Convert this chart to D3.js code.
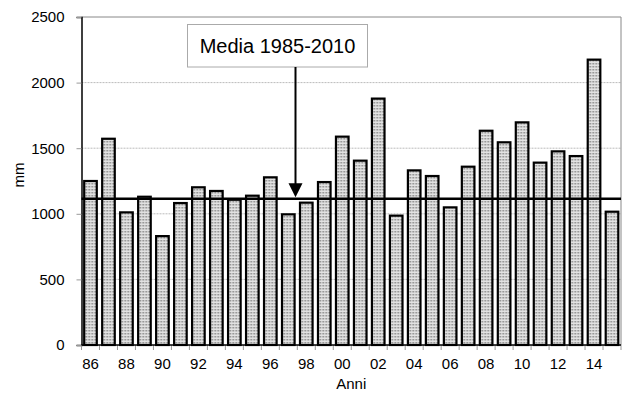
<!DOCTYPE html>
<html>
<head>
<meta charset="utf-8">
<script src="https://cdn.jsdelivr.net/npm/d3@7"></script>
<style>
  body { margin: 0; background: #fff; }
  text { font-family: "Liberation Sans", Arial, sans-serif; }
</style>
</head>
<body>
<div id="chart"></div>
<script>
// years (2 digit labels) and rainfall in mm
var years = ["86","87","88","89","90","91","92","93","94","95","96","97","98","99","00",
             "01","02","03","04","05","06","07","08","09","10","11","12","13","14","15"];
var rain = [1250, 1572, 1011, 1130, 830, 1082, 1202, 1174, 1107, 1138, 1278, 996, 1085, 1242, 1588,
            1405, 1878, 986, 1331, 1288, 1049, 1359, 1633, 1545, 1697, 1390, 1476, 1440, 2175, 1016];
var yTicks = [0, 500, 1000, 1500, 2000, 2500];
var mean = 1115;
var meanLabel = "Media 1985-2010";

var fullwidth = 623,
    fullheight = 401,
    margin = {top: 17, right: 2, bottom: 56, left: 81.5},
    width = fullwidth - margin.left - margin.right,
    height = fullheight - margin.top - margin.bottom;

var svg = d3.select("#chart")
  .append("svg")
    .attr("width", fullwidth)
    .attr("height", fullheight);

// dotted fill for the bars
var pat = svg.append("defs").append("pattern")
    .attr("id", "dots")
    .attr("patternUnits", "userSpaceOnUse")
    .attr("width", 3)
    .attr("height", 3);
pat.append("rect").attr("width", 3).attr("height", 3).attr("fill", "#e2e2e2");
pat.append("rect").attr("x", 1).attr("y", 1).attr("width", 1.5).attr("height", 1.5).attr("fill", "#808080");

var g = svg.append("g")
    .attr("transform", "translate(" + margin.left + "," + margin.top + ")");

var xScale = d3.scaleBand()
    .domain(years)
    .range([0, width]);
var yScale = d3.scaleLinear()
    .domain([0, 2500])
    .range([height, 0]);

// gridlines
g.selectAll(".grid")
  .data(yTicks.filter(d => d > 0))
  .enter()
  .append("line")
    .attr("x1", 0)
    .attr("x2", width)
    .attr("y1", d => yScale(d))
    .attr("y2", d => yScale(d))
    .attr("stroke", d => d == 2500 ? "#888" : "#bbb")
    .attr("stroke-dasharray", d => d == 2500 ? null : "2,1");
// right border
g.append("line")
    .attr("x1", width).attr("x2", width)
    .attr("y1", 0).attr("y2", height)
    .attr("stroke", "#888");

// Y axis
var yAxis = d3.axisLeft(yScale)
    .tickValues(yTicks)
    .tickFormat(d3.format("d"))
    .tickSize(5)
    .tickPadding(12);
var ya = g.append("g").call(yAxis);
ya.select(".domain").attr("stroke", "#000").attr("stroke-width", 1.5);
ya.selectAll(".tick line").attr("stroke", "#999");
ya.selectAll("text").attr("font-size", 15).attr("fill", "#000");

// X axis: ticks on category boundaries, labels every other year
var xa = g.append("g")
    .attr("transform", "translate(0," + height + ")");
xa.selectAll("line.t")
  .data(years.concat(["end"]))
  .enter()
  .append("line")
    .attr("x1", (d, i) => i * xScale.step())
    .attr("x2", (d, i) => i * xScale.step())
    .attr("y1", 0)
    .attr("y2", 5)
    .attr("stroke", "#999");
xa.selectAll("text")
  .data(years.filter((d, i) => i % 2 == 0))
  .enter()
  .append("text")
    .attr("x", d => xScale(d) + xScale.bandwidth() / 2)
    .attr("y", 24)
    .attr("text-anchor", "middle")
    .attr("font-size", 15)
    .text(d => d);

// bars
var barW = xScale.step() * 0.7;
g.selectAll(".bar")
  .data(rain)
  .enter()
  .append("rect")
    .attr("x", (d, i) => xScale(years[i]) + (xScale.bandwidth() - barW) / 2)
    .attr("y", d => yScale(d))
    .attr("width", barW)
    .attr("height", d => height - yScale(d))
    .attr("fill", "url(#dots)")
    .attr("stroke", "#000")
    .attr("stroke-width", 2.2);

// x axis line
g.append("line")
    .attr("x1", 0).attr("x2", width)
    .attr("y1", height).attr("y2", height)
    .attr("stroke", "#000")
    .attr("stroke-width", 1.5);

// mean line
g.append("line")
    .attr("x1", 0).attr("x2", width)
    .attr("y1", yScale(mean)).attr("y2", yScale(mean))
    .attr("stroke", "#000")
    .attr("stroke-width", 2.5);

// annotation box + arrow
var boxX = 106, boxY = 7.5, boxW = 180, boxH = 42.5;
var arrowX = 214;
g.append("rect")
    .attr("x", boxX).attr("y", boxY)
    .attr("width", boxW).attr("height", boxH)
    .attr("fill", "#fff")
    .attr("stroke", "#aaa");
g.append("text")
    .attr("x", boxX + boxW / 2)
    .attr("y", boxY + 28.5)
    .attr("text-anchor", "middle")
    .attr("font-size", 20)
    .text(meanLabel);
g.append("line")
    .attr("x1", arrowX).attr("x2", arrowX)
    .attr("y1", boxY + boxH).attr("y2", yScale(mean) - 12)
    .attr("stroke", "#000")
    .attr("stroke-width", 2);
var tip = yScale(mean) - 1.5;
g.append("path")
    .attr("d", "M" + (arrowX - 7) + "," + (tip - 14) + "L" + (arrowX + 7) + "," + (tip - 14) + "L" + arrowX + "," + tip + "Z")
    .attr("fill", "#000");

// axis titles
svg.append("text")
    .attr("transform", "translate(24," + (margin.top + height / 2 - 6) + ") rotate(-90)")
    .attr("text-anchor", "middle")
    .attr("font-size", 15)
    .text("mm");
svg.append("text")
    .attr("x", margin.left + width / 2)
    .attr("y", 389)
    .attr("text-anchor", "middle")
    .attr("font-size", 15)
    .text("Anni");
</script>
</body>
</html>
